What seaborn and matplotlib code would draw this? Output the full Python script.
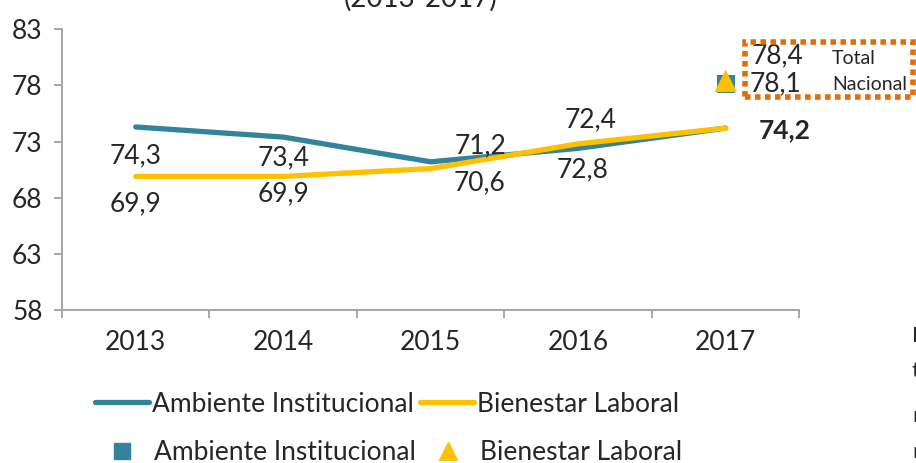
import pandas as pd
import matplotlib.pyplot as plt
import seaborn as sns
from matplotlib.lines import Line2D
from matplotlib.patches import Rectangle

years = ['2013', '2014', '2015', '2016', '2017']
ambiente = [74.3, 73.4, 71.2, 72.4, 74.2]
bienestar = [69.9, 69.9, 70.6, 72.8, 74.2]
total_ambiente = 78.1
total_bienestar = 78.4

teal = '#31849B'
gold = '#FFC000'
orange = '#E46C0A'
grey = '#A6A6A6'

sns.set_style('white')
plt.rcParams['font.family'] = ['Lato', 'DejaVu Sans']
FS = 19

df = pd.DataFrame({'year': years * 2,
                   'valor': ambiente + bienestar,
                   'serie': ['Ambiente Institucional'] * 5 + ['Bienestar Laboral'] * 5})

fig = plt.figure(figsize=(9.16, 4.63), dpi=100)
ax = fig.add_axes([0.0677, 0.330, 0.805, 0.607])

sns.lineplot(data=df, x='year', y='valor', hue='serie', palette=[teal, gold],
             lw=3.8, sort=False, legend=False, ax=ax)
for l in ax.lines:
    l.set_solid_capstyle('round')

# total nacional markers
sns.scatterplot(x=[years[-1]], y=[total_ambiente], marker='s', s=170, color=teal,
                edgecolor='none', ax=ax, zorder=5)
sns.scatterplot(x=[years[-1]], y=[total_bienestar], marker='^', s=260, color=gold,
                edgecolor='none', ax=ax, zorder=6)

ax.set_xlim(-0.5, 4.5)
ax.set_ylim(58, 83)
ax.set_yticks([58, 63, 68, 73, 78, 83])
ax.set_xlabel('')
ax.set_ylabel('')
sns.despine(ax=ax)
for s in ['left', 'bottom']:
    ax.spines[s].set_color(grey)
    ax.spines[s].set_linewidth(1.4)
ax.set_xticks(range(5))
ax.set_xticks([i - 0.5 for i in range(6)], minor=True)
ax.tick_params(axis='x', which='major', length=0, pad=14, labelsize=FS)
ax.tick_params(axis='x', which='minor', length=6, color=grey, width=1.4, direction='out')
ax.tick_params(axis='y', length=6, color=grey, width=1.4, direction='out', labelsize=FS, pad=8)
ax.tick_params(bottom=True, left=True, which='both')

fmt = lambda v: f'{v:.1f}'.replace('.', ',')
# label offsets in pixels
off_a = [(0, -29), (0, -21), (50, 16), (12, 29), (59, -2)]
off_b = [(0, -27), (0, -17), (49, -14), (4, -26), None]
for i in range(5):
    ax.annotate(fmt(ambiente[i]), (i, ambiente[i]), xytext=off_a[i], textcoords='offset pixels',
                ha='center', va='center', fontsize=FS,
                fontweight='bold' if i == 4 else 'normal')
    if off_b[i]:
        ax.annotate(fmt(bienestar[i]), (i, bienestar[i]), xytext=off_b[i], textcoords='offset pixels',
                    ha='center', va='center', fontsize=FS)
ax.annotate(fmt(total_bienestar), (4, total_bienestar), xytext=(52, 25), textcoords='offset pixels',
            ha='center', va='center', fontsize=FS)
ax.annotate(fmt(total_ambiente), (4, total_ambiente), xytext=(50, 0), textcoords='offset pixels',
            ha='center', va='center', fontsize=FS)

W, H = 916, 463
fig.patches.append(Rectangle((745 / W, 1 - 97 / H), 168 / W, 55 / H, transform=fig.transFigure,
                             fill=False, edgecolor=orange, lw=4, linestyle=(0, (1, 0.8)), zorder=10))
fig.text(832 / W, 1 - 59 / H, 'Total', fontsize=14, va='center', ha='left')
fig.text(832 / W, 1 - 84 / H, 'Nacional', fontsize=14, va='center', ha='left')

fig.text(421 / W, 1 - 7 / H, '(2013-2017)', fontsize=20, ha='center', va='baseline')

# slivers of a neighbouring text box, cut at the right edge as in the reference
for t, y in zip(['E', 't', 'r', 'r'], [342, 377, 422, 458]):
    fig.text(912 / W, 1 - y / H, t, fontsize=16, ha='left', va='baseline')

h1 = [Line2D([], [], color=teal, lw=3.8, solid_capstyle='round'),
      Line2D([], [], color=gold, lw=3.8, solid_capstyle='round')]
fig.legend(h1, ['Ambiente Institucional', 'Bienestar Laboral'], loc='center left',
           bbox_to_anchor=(95 / W, 1 - 404 / H), ncol=2, frameon=False, fontsize=FS,
           handlelength=2.05, handletextpad=0.12, columnspacing=0.22, borderaxespad=0,
           borderpad=0)
h2 = [Line2D([], [], color=teal, marker='s', ls='none', ms=11.5),
      Line2D([], [], color=gold, marker='^', ls='none', ms=13)]
fig.legend(h2, ['Ambiente Institucional', 'Bienestar Laboral'], loc='center left',
           bbox_to_anchor=(109 / W, 1 - 453 / H), ncol=2, frameon=False, fontsize=FS,
           handlelength=1, handletextpad=0.72, columnspacing=0.7, borderaxespad=0,
           borderpad=0)

fig.savefig('out.png', dpi=100)
